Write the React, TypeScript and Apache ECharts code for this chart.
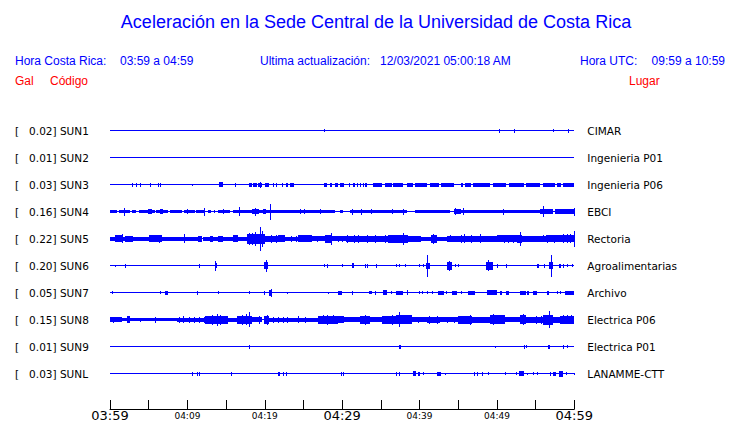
import React, { useEffect, useRef } from "react";
import * as echarts from "echarts";

// ---- data ----
const CODES = ["SUN1", "SUN2", "SUN3", "SUN4", "SUN5", "SUN6", "SUN7", "SUN8", "SUN9", "SUNL"];
const PLACES = ["CIMAR", "Ingenieria P01", "Ingenieria P06", "EBCI", "Rectoria", "Agroalimentarias", "Archivo", "Electrica P06", "Electrica P01", "LANAMME-CTT"];
const PEAK_GAL = [0.02, 0.01, 0.03, 0.16, 0.22, 0.2, 0.05, 0.15, 0.01, 0.03];

const TIME_TICKS = [0, 10, 20, 30, 40, 50, 60]; // minutes after 03:59
const TIME_LABELS = ["03:59", "04:09", "04:19", "04:29", "04:39", "04:49", "04:59"];
const MAJOR_LABELS = ["03:59", "04:29", "04:59"];

// Bursts per station: [start minute, end minute, half amplitude (relative units)]
const SUN1 = [[27.7, 27.7, 1.5], [50.3, 50.3, 2], [52.2, 52.4, 2], [57.3, 57.3, 1.5], [59.2, 59.3, 2]];
const SUN2: number[][] = [];
const SUN3 = [[2.9, 2.9, 2], [3.3, 3.3, 2], [3.9, 3.9, 2], [5.2, 5.2, 2], [6.2, 6.2, 2], [6.5, 6.5, 2], [10.6, 10.6, 1], [14.1, 14.6, 2.5], [16.2, 16.2, 2], [17.9, 18.3, 2], [18.5, 19.0, 2], [19.1, 19.6, 2], [19.4, 19.4, 3], [20.0, 20.6, 2], [21.1, 21.1, 2], [21.4, 21.4, 2], [22.2, 22.4, 2], [22.7, 23.0, 2], [23.2, 23.8, 2], [27.6, 28.1, 2], [28.4, 28.7, 2], [29.1, 29.5, 2], [29.7, 30.3, 2], [30.9, 31.0, 2], [31.4, 31.6, 2], [31.9, 32.0, 2], [32.3, 32.4, 2], [32.7, 32.8, 2], [33.0, 33.2, 2], [34.0, 35.2, 2], [35.5, 36.4, 2], [36.6, 37.9, 2], [38.4, 39.2, 2], [39.4, 41.0, 2], [41.3, 42.5, 2], [42.8, 44.4, 2], [45.3, 45.6, 2], [45.9, 46.6, 2], [46.9, 49.1, 2], [49.5, 51.2, 2], [51.5, 53.5, 2], [53.8, 55.6, 2], [55.9, 57.5, 2], [57.8, 58.3, 2], [58.6, 59.9, 2]];
const SUN4 = [[0, 0.9, 1.7], [1.2, 2.6, 1.7], [1.8, 1.8, 4], [2.8, 3.4, 1.7], [3.8, 5.8, 1.7], [4.9, 5.4, 2.5], [6.0, 7.5, 1.7], [6.5, 6.9, 2.5], [7.8, 9.3, 1.7], [9.5, 11.0, 1.7], [9.9, 9.9, 2.5], [11.1, 12.3, 1.7], [12.2, 12.2, 4], [12.7, 13.1, 1.5], [13.4, 13.4, 1.5], [14.0, 15.5, 1.7], [14.6, 14.6, 2.5], [15.9, 17.0, 1.7], [16.7, 16.7, 4.5], [17.0, 18.3, 1.7], [18.3, 19.2, 2.5], [18.7, 18.7, 4], [19.2, 21.3, 1.7], [19.8, 20.2, 2.5], [20.7, 20.7, 8], [21.3, 29.1, 1.7], [24.5, 24.5, 2.5], [25.1, 25.1, 2.5], [27.1, 27.1, 2.5], [29.7, 30.1, 1.7], [31.0, 38.4, 1.7], [31.3, 31.3, 3], [32.4, 32.4, 3], [33.7, 33.7, 2.5], [36.5, 36.5, 2.5], [37.8, 37.8, 3], [39.4, 44.0, 1.7], [44.4, 45.3, 2.5], [44.6, 44.6, 3.5], [45.6, 45.6, 3.5], [45.3, 50.4, 1.7], [50.8, 50.8, 3], [50.4, 55.6, 1.7], [55.6, 57.3, 2.5], [55.9, 55.9, 5.5], [57.5, 59.9, 2.2], [59.9, 59.9, 4]];
const SUN5 = [[0, 0.6, 2], [0.6, 1.5, 3.5], [1.5, 1.5, 4.5], [1.5, 2.0, 2], [2.0, 3.0, 3], [3.0, 5.0, 2], [5.0, 6.7, 3.5], [6.3, 6.3, 4], [6.7, 9.5, 2], [9.6, 9.6, 4.5], [9.7, 11.4, 2], [11.4, 11.9, 3], [12.0, 14.0, 2], [12.9, 13.3, 3], [14.0, 14.6, 3], [14.6, 15.9, 2], [15.9, 16.6, 3.5], [16.6, 17.7, 2], [17.7, 20.0, 5], [17.9, 17.9, 6], [18.4, 18.4, 6], [18.7, 18.7, 7], [19.4, 19.4, 12], [19.6, 19.6, 8], [20.0, 21.7, 3], [20.8, 20.8, 4], [21.5, 21.5, 4], [21.7, 22.6, 3.5], [22.6, 24.3, 2], [23.4, 23.4, 3], [24.1, 24.1, 3], [24.3, 26.1, 3.5], [26.1, 27.8, 2.5], [26.7, 26.7, 3], [27.8, 28.7, 4], [28.5, 28.5, 6], [28.7, 30.5, 2.5], [29.5, 29.5, 3], [30.0, 30.0, 3], [30.5, 32.0, 3], [30.6, 30.6, 4], [31.5, 31.5, 4], [32.1, 32.1, 4], [32.0, 35.9, 3], [33.2, 33.2, 4], [34.3, 34.3, 4], [35.6, 35.6, 4], [35.9, 38.5, 4], [37.9, 37.9, 6], [38.5, 40.2, 3], [40.2, 41.5, 2], [41.5, 42.3, 4], [41.7, 41.7, 5], [42.3, 43.6, 2], [43.6, 45.2, 3], [44.0, 44.0, 3.5], [45.2, 47.4, 3], [45.3, 45.3, 4], [45.8, 45.8, 4.5], [46.6, 46.6, 4], [47.8, 47.8, 4.5], [47.4, 50.0, 3], [50.0, 52.6, 3.5], [50.9, 50.9, 4], [51.4, 51.4, 4], [52.1, 52.1, 4], [52.6, 53.3, 4], [53.0, 53.0, 7], [53.3, 55.0, 3], [55.0, 56.3, 3], [55.9, 55.9, 3.5], [56.3, 57.6, 3.5], [56.5, 56.5, 4], [57.4, 57.4, 4], [57.6, 60, 3.5], [58.5, 58.5, 4.5], [59.0, 59.0, 4.5], [59.5, 59.5, 4.5], [59.9, 59.9, 8]];
const SUN6 = [[0.6, 0.6, 1], [2.0, 2.0, 2], [11.5, 11.5, 2], [13.6, 13.6, 5], [13.7, 13.7, 2.5], [19.9, 20.4, 3.5], [20.1, 20.1, 6], [27.6, 27.6, 1.5], [28.1, 28.1, 2], [30.0, 30.0, 1.5], [31.3, 31.5, 2.5], [33.0, 33.0, 2], [33.2, 33.2, 2], [34.4, 34.4, 2], [36.9, 36.9, 1.5], [37.4, 37.4, 1.5], [38.1, 38.1, 1.5], [39.9, 39.9, 1.5], [40.4, 40.4, 1.5], [40.8, 41.3, 3], [41.0, 41.0, 11], [43.6, 44.2, 4], [43.8, 43.8, 5], [44.6, 44.6, 1.5], [45.0, 45.0, 1.5], [48.6, 49.5, 4], [48.9, 48.9, 5.5], [50.0, 50.0, 2], [51.2, 51.2, 2], [55.2, 55.5, 2], [56.1, 56.1, 2], [56.7, 57.2, 3.5], [56.95, 56.95, 11], [58.0, 58.0, 2], [58.2, 58.2, 2], [58.5, 58.5, 2], [59.1, 59.1, 1.5], [59.7, 59.7, 1.5]];
const SUN7 = [[0.3, 0.3, 1.5], [6.5, 6.5, 1.5], [7.1, 7.5, 2], [11.2, 11.2, 2], [14.0, 14.0, 1.5], [17.9, 17.9, 1.5], [19.9, 19.9, 2], [20.6, 20.9, 3], [20.75, 20.75, 4], [22.9, 22.9, 1], [28.2, 28.2, 1], [29.5, 30.0, 2], [31.3, 31.3, 2], [33.5, 33.8, 1.5], [34.3, 34.3, 2], [35.3, 35.8, 2.5], [36.3, 36.5, 1.5], [37.0, 37.8, 2], [38.4, 38.4, 2.5], [39.9, 39.9, 1.5], [40.3, 40.3, 1.5], [41.0, 41.0, 1.5], [41.6, 41.6, 1.5], [42.4, 43.1, 2], [43.4, 43.6, 1.5], [44.2, 44.8, 2], [45.3, 45.5, 1.5], [46.3, 47.2, 2], [48.7, 50.0, 2.5], [50.4, 50.7, 2], [51.2, 51.6, 2], [53.0, 53.7, 2], [53.9, 54.1, 2], [54.6, 55.2, 2], [56.5, 56.7, 2], [57.8, 57.8, 1.5], [58.2, 58.2, 1.5], [58.8, 59.9, 2]];
const SUN8 = [[0, 1.5, 2.2], [0.4, 0.4, 3], [1.5, 2.2, 1.7], [2.2, 2.6, 3.5], [2.6, 5.8, 1.7], [3.9, 3.9, 2], [5.8, 5.8, 3], [5.8, 8.6, 1.3], [8.6, 12.3, 2], [8.9, 8.9, 3], [9.4, 9.4, 3.5], [10.2, 10.2, 3], [10.8, 10.8, 3], [11.5, 11.5, 3], [12.1, 12.1, 3], [12.3, 15.3, 4], [13.2, 13.2, 5], [13.8, 13.8, 6], [14.2, 14.2, 5], [15.3, 16.4, 2], [16.4, 18.3, 4], [17.0, 17.0, 5], [17.6, 17.6, 5.5], [18.0, 18.0, 7.5], [18.3, 19.6, 2.5], [19.2, 19.2, 4], [19.9, 20.6, 4], [20.3, 20.3, 5], [20.6, 23.6, 2], [21.0, 21.0, 3], [21.7, 21.7, 3], [22.4, 22.4, 3], [22.9, 22.9, 3], [23.6, 26.9, 2], [24.3, 24.3, 3.5], [25.2, 25.2, 3], [26.9, 29.5, 4], [27.5, 27.5, 4.5], [28.1, 28.1, 5], [28.8, 28.8, 4.5], [29.5, 30.3, 3.5], [30.3, 32.3, 2.5], [32.3, 33.6, 4], [32.9, 32.9, 5], [33.6, 35.1, 2.5], [35.1, 36.9, 4], [36.4, 36.4, 5], [36.9, 39.0, 4.5], [37.4, 37.4, 7.5], [39.0, 41.0, 2.5], [39.8, 39.8, 3], [41.0, 42.7, 3], [41.2, 41.2, 4], [42.3, 42.3, 4], [42.7, 45.0, 2.5], [43.5, 43.5, 3], [44.4, 44.4, 3], [45.0, 46.8, 4], [46.5, 46.5, 5], [46.8, 49.1, 3], [49.1, 51.1, 4.5], [49.5, 49.5, 5.5], [51.1, 53.0, 2.5], [53.0, 53.7, 4.5], [53.4, 53.4, 5.5], [53.7, 55.9, 3], [55.1, 55.1, 4], [55.7, 55.7, 4], [56.0, 57.3, 5], [56.7, 56.7, 8.5], [57.3, 58.1, 3], [58.1, 60, 4], [58.5, 58.5, 4.5], [59.0, 59.0, 4.5], [59.6, 59.6, 4.5]];
const SUN9 = [[18.0, 18.0, 2], [37.3, 37.6, 2], [49.7, 49.7, 1], [53.5, 53.5, 2], [53.7, 53.7, 1.5], [56.6, 56.9, 2], [58.6, 58.6, 2], [59.0, 59.0, 1.5]];
const SUNL = [[10.6, 10.6, 2], [11.3, 11.3, 2], [11.5, 11.5, 2], [15.7, 15.7, 2], [21.7, 22.0, 2], [22.4, 22.4, 2], [22.7, 22.7, 2], [29.8, 29.8, 2], [30.1, 30.2, 2], [37.0, 37.0, 2], [37.3, 37.3, 2], [39.2, 39.6, 2.5], [39.8, 40.1, 2], [40.5, 40.5, 1.5], [42.3, 42.8, 2], [43.3, 43.3, 1], [47.1, 47.1, 2], [47.4, 47.4, 2], [48.1, 48.1, 2], [48.8, 48.8, 1.5], [51.0, 51.0, 1.5], [52.5, 52.5, 1.5], [52.9, 53.5, 2.5], [53.9, 53.9, 1], [54.7, 54.7, 1.5], [55.2, 55.2, 1.5], [56.9, 56.9, 2], [57.2, 57.6, 2], [58.0, 58.5, 3], [58.9, 58.9, 1.5], [60, 60, 1]];

const TRACES = [SUN1, SUN2, SUN3, SUN4, SUN5, SUN6, SUN7, SUN8, SUN9, SUNL];
const AMP_PER_TRACE = 27; // relative amplitude units per trace spacing

const BLUE = "#0000ff";
const RED = "#ff0000";

export default function App() {
  const ref = useRef<HTMLDivElement>(null);
  useEffect(() => {
    if (!ref.current) return;
    const chart = echarts.init(ref.current, null, { renderer: "svg" });

    const baseData = TRACES.map((_, k) => [0, 60, k, 0]);
    const burstData: number[][] = [];
    TRACES.forEach((tr, k) => tr.forEach((e) => burstData.push([e[0], e[1], k, e[2]])));

    const renderItem = (_params: any, api: any) => {
      const t0 = api.value(0);
      const t1 = api.value(1);
      const k = api.value(2);
      const a = api.value(3);
      const p0 = api.coord([t0, k]);
      const p1 = api.coord([t1, k]);
      const pa = api.coord([t0, k + a / AMP_PER_TRACE]);
      const h = Math.abs(pa[1] - p0[1]);
      const cy = p0[1];
      let x0 = Math.round(p0[0]);
      let x1 = Math.round(p1[0]);
      if (x1 <= x0) x1 = x0 + 1;
      let y0: number, y1: number;
      if (a === 0) {
        y0 = Math.floor(cy);
        y1 = y0 + 1;
      } else {
        y0 = Math.round(cy - h);
        y1 = Math.round(cy + h);
      }
      return {
        type: "rect",
        shape: { x: x0, y: y0, width: x1 - x0, height: y1 - y0 },
        style: { fill: BLUE, stroke: null },
      };
    };

    const hdrFont = (size: number) => `${size}px "Liberation Sans", Arial, sans-serif`;
    const txt = (text: string, x: number, y: number, fill: string, size: number, align = "left") => ({
      type: "text",
      x,
      y,
      style: { text, fill, font: hdrFont(size), textAlign: align, textVerticalAlign: "middle" },
    });

    chart.setOption({
      animation: false,
      backgroundColor: "#ffffff",
      grid: [
        { left: 110, top: 103.5, width: 464.3, height: 297 },
        { left: 110, top: 400, width: 464.3, height: 9 },
      ],
      xAxis: [
        { gridIndex: 0, type: "value", min: 0, max: 60, show: false },
        {
          gridIndex: 1,
          type: "value",
          min: 0,
          max: 60,
          interval: 5,
          axisLine: { show: true, lineStyle: { color: "#000", width: 1 } },
          axisTick: { show: true, inside: true, length: 9, lineStyle: { color: "#000", width: 1 } },
          splitLine: { show: false },
          axisLabel: {
            show: true,
            showMinLabel: true,
            showMaxLabel: true,
            margin: 6.5,
            verticalAlign: "middle",
            color: "#000",
            fontFamily: "DejaVu Sans",
            formatter: (v: number) => {
              const i = TIME_TICKS.indexOf(v);
              if (i < 0) return "";
              const lab = TIME_LABELS[i];
              return MAJOR_LABELS.includes(lab) ? `{big|${lab}}` : `{small|${lab}}`;
            },
            rich: {
              big: { fontSize: 13, fontFamily: "DejaVu Sans", color: "#000" },
              small: { fontSize: 9, fontFamily: "DejaVu Sans", color: "#000" },
            },
          },
        },
      ],
      yAxis: [
        {
          gridIndex: 0,
          type: "value",
          min: -1,
          max: 10,
          interval: 1,
          inverse: true,
          axisLine: { show: false },
          axisTick: { show: false },
          splitLine: { show: false },
          axisLabel: {
            show: true,
            align: "left",
            margin: 95,
            color: "#000",
            fontSize: 10.5,
            fontFamily: "DejaVu Sans",
            formatter: (v: number) =>
              v >= 0 && v < CODES.length ? `[\u00a0\u00a0\u00a0${PEAK_GAL[v].toFixed(2)}] ${CODES[v]}` : "",
          },
        },
        {
          gridIndex: 0,
          type: "value",
          position: "right",
          min: -1,
          max: 10,
          interval: 1,
          inverse: true,
          axisLine: { show: false },
          axisTick: { show: false },
          splitLine: { show: false },
          axisLabel: {
            show: true,
            align: "left",
            margin: 13,
            color: "#000",
            fontSize: 10.5,
            fontFamily: "DejaVu Sans",
            formatter: (v: number) => (v >= 0 && v < PLACES.length ? PLACES[v] : ""),
          },
        },
        { gridIndex: 1, type: "value", min: 0, max: 1, show: false },
      ],
      graphic: [
        txt("Aceleración en la Sede Central de la Universidad de Costa Rica", 376, 22, BLUE, 18, "center"),
        txt("Hora Costa Rica:", 15, 61, BLUE, 12),
        txt("03:59 a 04:59", 120, 61, BLUE, 12),
        txt("Ultima actualización:", 260, 61, BLUE, 12),
        txt("12/03/2021 05:00:18 AM", 380, 61, BLUE, 12),
        txt("Hora UTC:", 580, 61, BLUE, 12),
        txt("09:59 a 10:59", 725, 61, BLUE, 12, "right"),
        txt("Gal", 15, 81, RED, 12),
        txt("Código", 50, 81, RED, 12),
        txt("Lugar", 629, 81, RED, 12),
      ],
      series: [
        {
          type: "custom",
          name: "base",
          xAxisIndex: 0,
          yAxisIndex: 0,
          renderItem,
          data: baseData,
          encode: { x: [0, 1], y: 2 },
          silent: true,
          clip: false,
        },
        {
          type: "custom",
          name: "bursts",
          xAxisIndex: 0,
          yAxisIndex: 0,
          renderItem,
          data: burstData,
          encode: { x: [0, 1], y: 2 },
          silent: true,
          clip: false,
        },
      ],
    });
    return () => chart.dispose();
  }, []);

  return (
    <div
      ref={ref}
      style={{ position: "fixed", left: 0, top: 0, width: 740, height: 423, background: "#fff" }}
    />
  );
}
